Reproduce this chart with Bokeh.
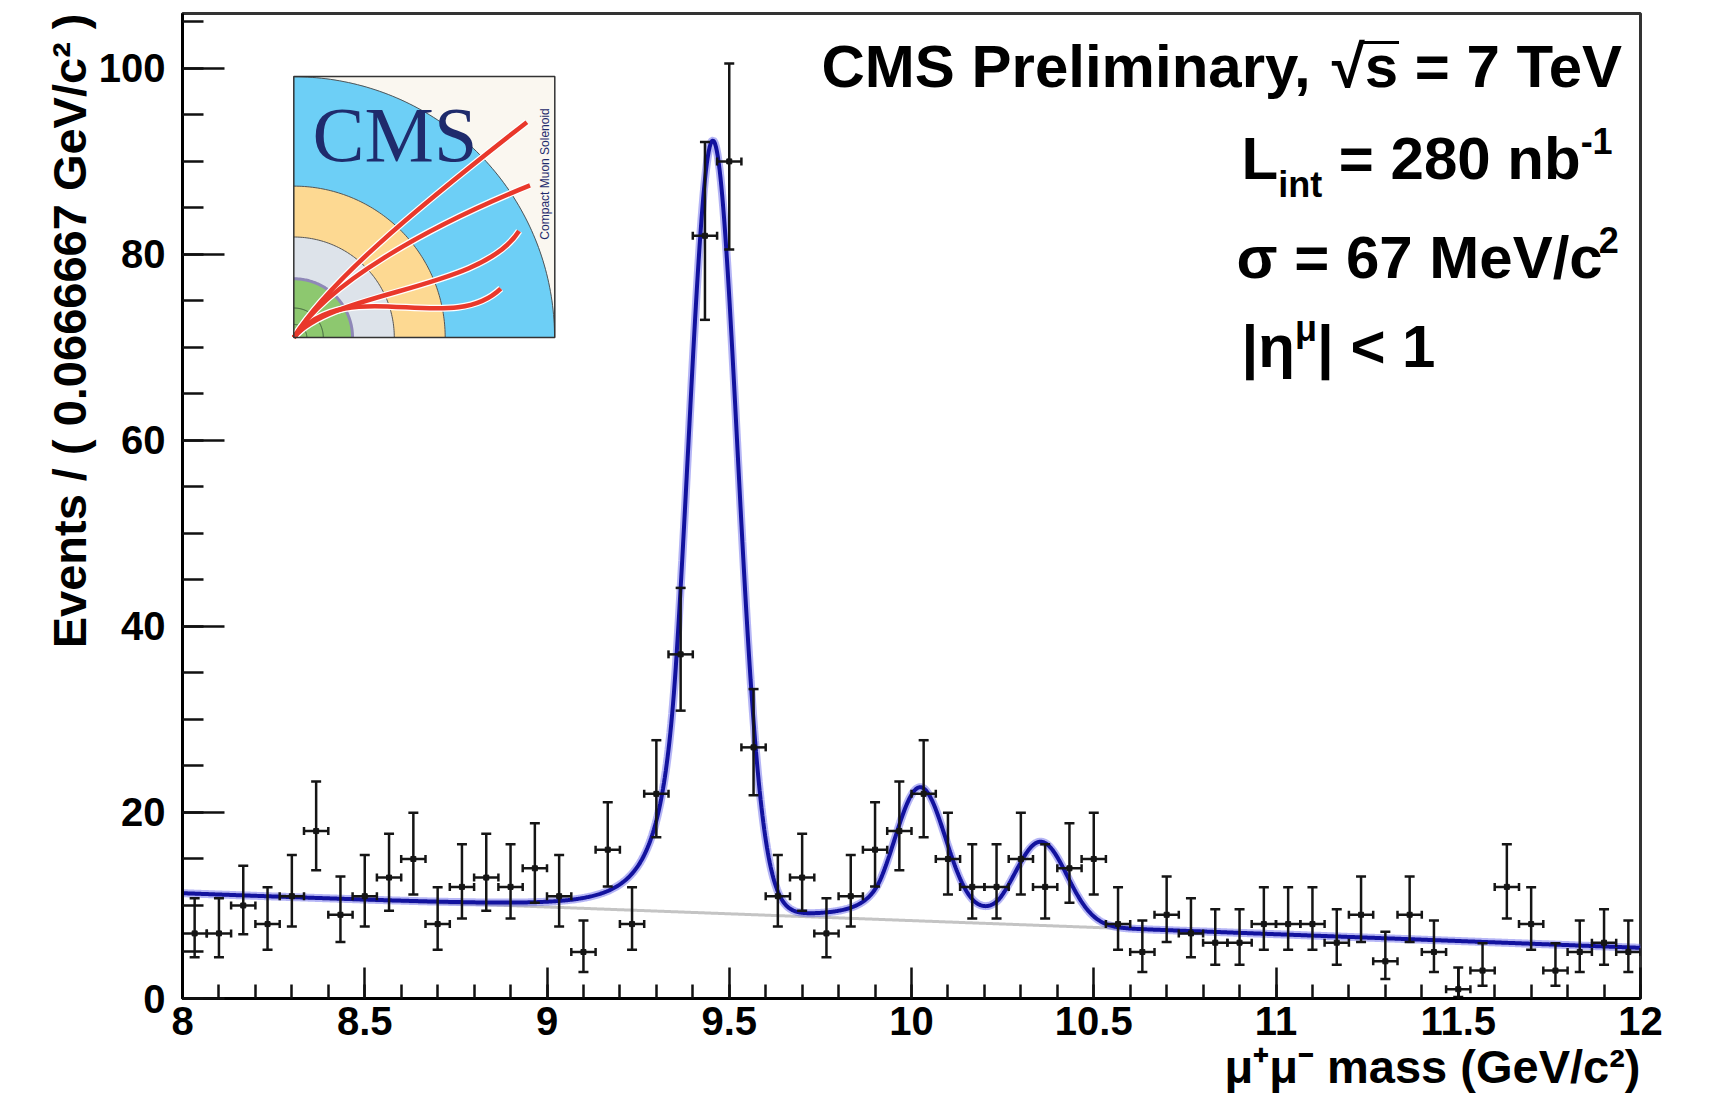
import numpy as np
from bokeh.plotting import figure
from bokeh.models import Range1d, FixedTicker, Label, Title
from bokeh.core.properties import value
from bokeh.embed import file_html
from bokeh.resources import INLINE

# ---------------- data ----------------
mass_lo, mass_hi = 8.0, 12.0
n_bins = 60
counts = [7, 7, 10, 8, 11, 18, 9, 11, 13, 15,
          8, 12, 13, 12, 14, 11, 5, 16, 8, 22,
          37, 82, 90, 27, 11, 13, 7, 11, 16, 18,
          22, 15, 12, 12, 15, 12, 14, 15, 8, 5,
          9, 7, 6, 6, 8, 8, 8, 6, 9, 4,
          9, 5, 1, 3, 12, 8, 3, 5, 6, 5]

# fit model parameters
peak_mass = [9.455, 10.024, 10.355]
peak_amp = [83.0, 14.2, 9.0]
peak_sigma = [0.067, 0.070, 0.072]
cb_alpha = 1.5
cb_n = 3.0
bkg_ends = [11.3, 5.45]          # linear background at 8 and 12 GeV

x_ticks = [8, 8.5, 9, 9.5, 10, 10.5, 11, 11.5, 12]
x_tick_labels = ["8", "8.5", "9", "9.5", "10", "10.5", "11", "11.5", "12"]
y_ticks = [0, 20, 40, 60, 80, 100]
y_tick_labels = ["0", "20", "40", "60", "80", "100"]

x_title = "μ⁺μ⁻ mass (GeV/c²)"
y_title = "Events / ( 0.0666667 GeV/c² )"

# ---------------- derived quantities ----------------
bw = (mass_hi - mass_lo) / n_bins
centers = mass_lo + bw * (np.arange(n_bins) + 0.5)
n = np.array(counts, dtype=float)
# Poisson (Gehrels) intervals
err_hi = n + np.sqrt(n + 0.75) + 1.0
err_lo = n * (1 - 1 / (9 * n) - 1 / (3 * np.sqrt(n))) ** 3


def bkg(m):
    return bkg_ends[0] + (bkg_ends[1] - bkg_ends[0]) * (m - mass_lo) / (mass_hi - mass_lo)


def crystal_ball(m, m0, s, a, nn):
    t = (m - m0) / s
    A = (nn / a) ** nn * np.exp(-a * a / 2)
    B = nn / a - a
    tail = A * np.power(np.maximum(B - t, 1e-9), -nn)
    return np.where(t > -a, np.exp(-t * t / 2), tail)


mm = np.linspace(mass_lo, mass_hi, 1600)
fit_total = bkg(mm).copy()
for m0, amp, s in zip(peak_mass, peak_amp, peak_sigma):
    fit_total += amp * crystal_ball(mm, m0, s, cb_alpha, cb_n)

# ---------------- figure geometry ----------------
W_FIG, H_FIG = 1715, 1115
FL, FT = 182, 13
FW, FH = 1458, 985
X0, X1 = mass_lo, mass_hi
Y0, Y1 = 0.0, 105.9

p = figure(width=W_FIG, height=H_FIG, x_range=Range1d(X0, X1), y_range=Range1d(Y0, Y1),
           output_backend="svg", toolbar_location=None,
           min_border_left=FL, min_border_top=FT,
           min_border_right=W_FIG - FL - FW, min_border_bottom=H_FIG - FT - FH)
p.background_fill_color = "white"
p.border_fill_color = "white"
p.xgrid.visible = False
p.ygrid.visible = False
p.outline_line_color = "#333333"
p.outline_line_width = 3


def dx(px):
    return X0 + (px - FL) * (X1 - X0) / FW


def dy(py):
    return Y1 - (py - FT) * (Y1 - Y0) / FH


FONT = "Liberation Sans"
BASE_FIX = 0.36   # baseline correction (fraction of font size)

# axes
p.xaxis.ticker = FixedTicker(ticks=x_ticks, minor_ticks=list(np.round(np.arange(8.0, 12.001, 0.1), 3)))
p.xaxis.major_label_overrides = {t: l for t, l in zip(x_ticks, x_tick_labels)}
p.yaxis.ticker = FixedTicker(ticks=y_ticks, minor_ticks=list(range(0, 106, 5)))
p.yaxis.major_label_overrides = {t: l for t, l in zip(y_ticks, y_tick_labels)}
for ax, maj, mnr, stand in ((p.xaxis, 31, 14, 8), (p.yaxis, 42, 21, 17)):
    ax.major_tick_in = maj
    ax.major_tick_out = 0
    ax.minor_tick_in = mnr
    ax.minor_tick_out = 0
    ax.axis_line_width = 3
    ax.axis_line_color = "black"
    ax.major_tick_line_width = 2.5
    ax.minor_tick_line_width = 2.5
    ax.major_tick_line_color = "#111111"
    ax.minor_tick_line_color = "#111111"
    ax.major_label_text_font = FONT
    ax.major_label_text_font_style = "bold"
    ax.major_label_text_font_size = "40px"
    ax.major_label_text_color = "black"
    ax.major_label_standoff = stand

# axis titles (right aligned, ROOT style)
p.add_layout(Title(text=x_title, align="right", text_font=FONT, text_font_style="bold",
                   text_font_size="47px", text_color="black", standoff=0), "below")
p.add_layout(Title(text=y_title, align="right", text_font=FONT, text_font_style="bold",
                   text_font_size="47px", text_color="black", standoff=0), "left")

# ---------------- CMS logo (decoration) ----------------
LOGO_L, LOGO_T, LOGO_S = 293.3, 76.0, 261.0


def lx(u):
    return dx(LOGO_L + np.asarray(u) * LOGO_S)


def ly(v):
    return dy(LOGO_T + LOGO_S - np.asarray(v) * LOGO_S)


th = np.linspace(0, np.pi / 2, 90)
p.quad(left=[lx(0)], right=[lx(1)], bottom=[ly(0)], top=[ly(1)],
       fill_color="#FAF7F0", line_color=None)
for r, col in ((1.0, "#6DCFF6"), (0.58, "#FDD992"), (0.385, "#DDE3EA"), (0.225, "#8DC86F")):
    us = np.concatenate([[0], r * np.cos(th), [0]])
    vs = np.concatenate([[0], r * np.sin(th), [0]])
    p.patch(lx(us), ly(vs), fill_color=col, line_color=None)
for r, col, w in ((0.999, "#555555", 1), (0.58, "#555555", 1), (0.385, "#555555", 1),
                  (0.225, "#8F88B8", 3), (0.113, "#3C5A3C", 1), (0.05, "#3C5A3C", 1)):
    p.line(lx(r * np.cos(th)), ly(r * np.sin(th)), line_color=col, line_width=w)

tracks = [  # (end u, end v, c1 u, c1 v, c2 u, c2 v)
    (0.893, 0.825, 0.13, 0.21, 0.45, 0.48),
    (0.905, 0.583, 0.12, 0.20, 0.50, 0.42),
    (0.863, 0.408, 0.15, 0.18, 0.72, 0.18),
    (0.793, 0.1875, 0.20, 0.25, 0.60, 0.0),
]
for ln_col, ln_w in (("white", 7), ("#E9382B", 4.5)):
    p.bezier(x0=[lx(0)] * 4, y0=[ly(0)] * 4,
             x1=[lx(t[0]) for t in tracks], y1=[ly(t[1]) for t in tracks],
             cx0=[lx(t[2]) for t in tracks], cy0=[ly(t[3]) for t in tracks],
             cx1=[lx(t[4]) for t in tracks], cy1=[ly(t[5]) for t in tracks],
             line_color=ln_col, line_width=ln_w)
p.quad(left=[lx(0)], right=[lx(1)], bottom=[ly(0)], top=[ly(1)],
       fill_color=None, line_color="#333333", line_width=1.5)
CMS_SIZE = 78
p.text(x=[lx(0.072)], y=[dy(LOGO_T + LOGO_S * (1 - 0.672) - BASE_FIX * CMS_SIZE)], text=["CMS"],
       text_font=value("Liberation Serif"), text_font_size=f"{CMS_SIZE}px", text_color="#1F2B6C",
       text_baseline="alphabetic", text_align="left")
p.text(x=[lx(0.962)], y=[ly(0.375)], text=["Compact Muon Solenoid"], angle=np.pi / 2,
       text_font=value(FONT), text_font_size="12px", text_color="#1F2B6C",
       text_baseline="middle", text_align="left")

# ---------------- fit curves ----------------
p.line(mm, bkg(mm), line_color="#C4C4C4", line_width=3)
p.line(mm, fit_total, line_color="#5C5CE8", line_width=8, line_alpha=0.45)
p.line(mm, fit_total, line_color="#12129E", line_width=4)

# ---------------- data points ----------------
EC = "#151515"
p.segment(centers, err_lo, centers, err_hi, line_color=EC, line_width=2.5)
p.segment(centers - bw / 2, n, centers + bw / 2, n, line_color=EC, line_width=2.5)
p.scatter(np.concatenate([centers, centers]), np.concatenate([err_lo, err_hi]),
          marker="dash", size=10, line_color=EC, line_width=2.5)
p.scatter(np.concatenate([centers - bw / 2, centers + bw / 2]), np.concatenate([n, n]),
          marker="dash", angle=np.pi / 2, size=8, line_color=EC, line_width=2.5)
p.scatter(centers, n, marker="square", size=5, fill_color=EC, line_color=EC)

# ---------------- annotation texts ----------------
CW = {' ': 278, '(': 333, ')': 333, '+': 584, ',': 278, '-': 333, '.': 278, '/': 278, '<': 584,
      '=': 584, 'C': 722, 'E': 667, 'G': 778, 'L': 611, 'M': 833, 'P': 667, 'S': 667, 'T': 611,
      'V': 667, 'a': 556, 'b': 611, 'c': 556, 'e': 556, 'i': 278, 'l': 278, 'm': 889, 'n': 611,
      'o': 611, 'r': 389, 's': 556, 't': 333, 'v': 556, 'y': 556, '|': 280, 'μ': 611, 'η': 611,
      'σ': 617, '√': 549}


def tw(s, size):
    return sum(CW.get(ch, 556) for ch in s) * size / 1000.0


def seg_width(segs):
    return sum(tw(s, sz) for s, sz, _ in segs)


def put_segments(segs, x_start, base_y):
    """Place text segments left to right; spaces are turned into offsets."""
    pos = []
    cur = x_start
    for s, sz, off in segs:
        pos.append(cur)
        lead = len(s) - len(s.lstrip(" "))
        txt = s.strip(" ")
        if txt:
            lab = Label(x=dx(cur + tw(" " * lead, sz)), y=dy(base_y + off - BASE_FIX * sz), text=txt)
            lab.text_font = FONT
            lab.text_font_style = "bold"
            lab.text_font_size = f"{sz}px"
            lab.text_color = "black"
            lab.text_align = "left"
            lab.text_baseline = "alphabetic"
            p.add_layout(lab)
        cur = cur + tw(s, sz)
    pos.append(cur)
    return pos


TS, SS = 60, 36
line1 = [("CMS Preliminary, ", TS, 0), ("√", TS, 0), ("s", TS, 0), (" = 7 TeV", TS, 0)]
B1 = 87.5
pos1 = put_segments(line1, 1626 - seg_width(line1), B1)
p.segment(x0=[dx(pos1[2] - 3)], y0=[dy(B1 - 0.76 * TS)], x1=[dx(pos1[3] + 1)],
          y1=[dy(B1 - 0.76 * TS)], line_color="black", line_width=3)
put_segments([("L", TS, 0), ("int", SS, 17), (" = 280 nb", TS, 0), ("-1", SS, -27)], 1241, 180)
put_segments([("σ = 67 MeV/c", TS, 0), ("2", SS, -27)], 1236, 279)
put_segments([("|η", TS, 0), ("μ", SS, -27), ("| < 1", TS, 0)], 1241, 368)

open("out.html", "w").write(file_html(p, INLINE))
